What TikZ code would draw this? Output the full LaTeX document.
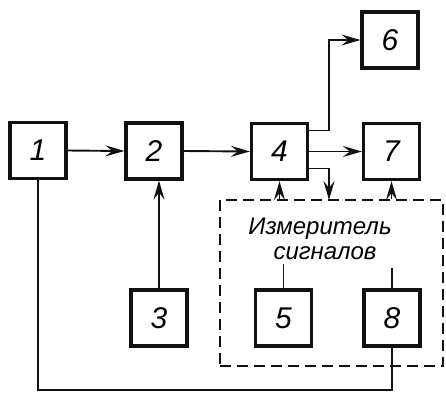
\documentclass[tikz,border=0pt]{standalone}
\usepackage{fontspec}
\setmainfont{Liberation Sans}
\definecolor{ink}{HTML}{111111}
\usetikzlibrary{arrows.meta}

\begin{document}
\begin{tikzpicture}[x=1pt,y=-1pt,
    blk/.style={draw=ink,line width=3.2pt,minimum width=56pt,minimum height=56pt,inner sep=0pt,
      font=\fontsize{30}{30}\selectfont\itshape},
    lnk/.style={ink,line width=1.9pt},
    arr/.style={lnk,-{Stealth[length=19pt,width=11pt,inset=7pt]}},
    lbl/.style={inner sep=0pt,anchor=base,font=\fontsize{24}{24}\selectfont\itshape}]
        \useasboundingbox (0,0) rectangle (446,392);
        % blocks
        \node[blk] (b1) at (38,150.5) {1};
        \node[blk] (b2) at (154,151) {2};
        \node[blk] (b4) at (279.5,151.5) {4};
        \node[blk] (b7) at (391.5,151.5) {7};
        \node[blk] (b6) at (390,40) {6};
        \node[blk] (b3) at (159,318) {3};
        \node[blk] (b5) at (283.5,318) {5};
        \node[blk] (b8) at (392,318) {8};
        % signal meter
        \node[draw=ink,line width=1.6pt,dash pattern=on 11pt off 6pt,minimum width=223pt,minimum height=166pt,
          inner sep=0pt] (meas) at (331.5,283) {};
        \node[lbl] (meas1) at (320,234) {Измеритель};
        \node[lbl] (meas2) at (325,259) {сигналов};
        \coordinate (tap) at (329,200);
        \coordinate (s5) at (283.5,264);
        \coordinate (s8) at (392,268);
        \coordinate (bot) at (0,390);
        % connectors
        \draw[arr] (b1.east) -- (b2.west);
        \draw[arr] (b2.east) -- (b4.west);
        \draw[arr] (b4.east) -- (b7.west);
        \draw[arr] ([yshift=21pt]b4.east) -| (b6.west -| tap) -- (b6.west);
        \draw[arr] ([yshift=-17pt]b4.east) -| (tap);
        \draw[arr] (meas.north -| b4) -- (b4.south);
        \draw[arr] (meas.north -| b7) -- (b7.south);
        \draw[arr] (b3.north) -- (b3.north |- b2.south);
        \draw[lnk] (b5.north) -- (s5);
        \draw[lnk] (b8.north) -- (s8);
        \draw[lnk] (b1.south) |- (bot -| b8) -- (b8.south);
      \end{tikzpicture}
\end{document}
